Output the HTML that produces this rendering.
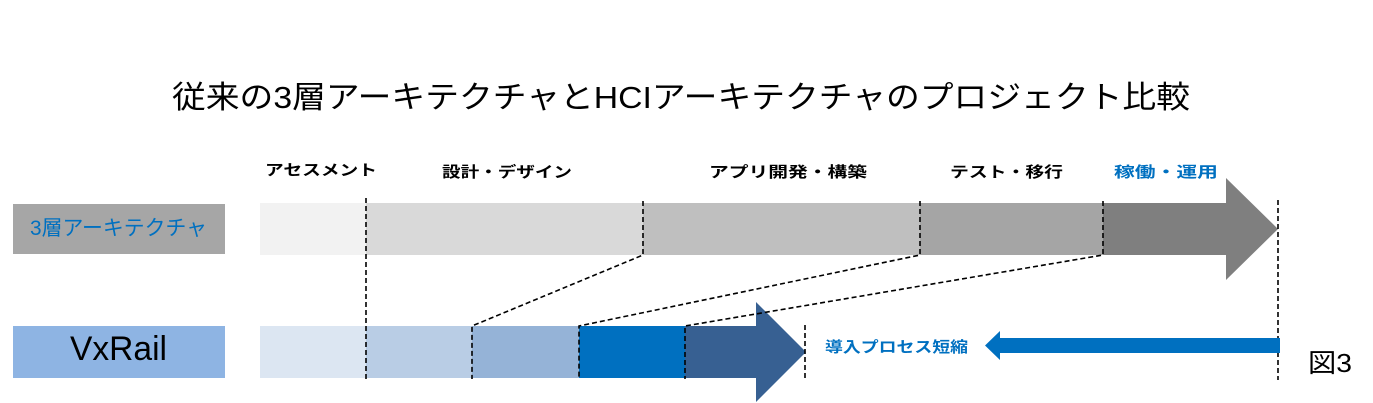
<!DOCTYPE html>
<html><head><meta charset="utf-8"><style>
html,body{margin:0;padding:0;background:#fff;}
svg{display:block;}
text{font-family:"Liberation Sans","Noto Sans CJK JP",sans-serif;}
</style></head><body>
<svg width="1373" height="403" viewBox="0 0 1373 403" xmlns="http://www.w3.org/2000/svg">
<rect width="1373" height="403" fill="#fff"/>
<text x="172" y="108" font-size="31" fill="#000" textLength="1018" lengthAdjust="spacingAndGlyphs">従来の3層アーキテクチャとHCIアーキテクチャのプロジェクト比較</text>
<g font-size="15" font-weight="bold" fill="#000">
<text x="265" y="175" textLength="112" lengthAdjust="spacingAndGlyphs">アセスメント</text>
<text x="442" y="177" textLength="130" lengthAdjust="spacingAndGlyphs">設計・デザイン</text>
<text x="709" y="177" textLength="158" lengthAdjust="spacingAndGlyphs">アプリ開発・構築</text>
<text x="950" y="177" textLength="113" lengthAdjust="spacingAndGlyphs">テスト・移行</text>
<text x="1114" y="177" textLength="104" lengthAdjust="spacingAndGlyphs" fill="#0070c0">稼働・運用</text>
</g>
<rect x="13" y="204" width="212" height="50" fill="#a6a6a6"/>
<text x="30" y="235" font-size="21" fill="#0070c0" textLength="177" lengthAdjust="spacingAndGlyphs">3層アーキテクチャ</text>
<rect x="13" y="326" width="212" height="52" fill="#8eb4e3"/>
<text x="70" y="360" font-size="34" fill="#000" textLength="97" lengthAdjust="spacingAndGlyphs">VxRail</text>
<rect x="260" y="203" width="106" height="52" fill="#f2f2f2"/>
<rect x="366" y="203" width="277" height="52" fill="#d9d9d9"/>
<rect x="643" y="203" width="277" height="52" fill="#bfbfbf"/>
<rect x="920" y="203" width="183" height="52" fill="#a5a5a5"/>
<polygon points="1103,203 1226,203 1226,178 1278,229 1226,280 1226,255 1103,255" fill="#7f7f7f"/>
<rect x="260" y="326" width="106" height="52" fill="#dce6f2"/>
<rect x="366" y="326" width="106" height="52" fill="#b9cde5"/>
<rect x="472" y="326" width="107" height="52" fill="#95b3d7"/>
<rect x="579" y="326" width="106" height="52" fill="#0070c0"/>
<polygon points="685,326 756,326 756,302 806,352 756,402 756,378 685,378" fill="#376092"/>
<g stroke="#000" stroke-width="1.6" stroke-dasharray="5,3" fill="none">
<line x1="366" y1="198" x2="366" y2="379"/>
<polyline points="643,201 643,255 472,326 472,379"/>
<polyline points="920,201 920,255 579,326 579,379"/>
<polyline points="1103,201 1103,255 685,326 685,379"/>
<line x1="805" y1="325" x2="805" y2="379"/>
<line x1="1278" y1="200" x2="1278" y2="380"/>
</g>
<polygon points="1280,338 1000,338 1000,331 985,345.5 1000,360 1000,353 1280,353" fill="#0070c0"/>
<text x="825" y="352" font-size="15" font-weight="bold" fill="#0070c0" textLength="143" lengthAdjust="spacingAndGlyphs">導入プロセス短縮</text>
<text x="1308" y="372" font-size="26" fill="#000" textLength="44" lengthAdjust="spacingAndGlyphs">図3</text>
</svg>
</body></html>
